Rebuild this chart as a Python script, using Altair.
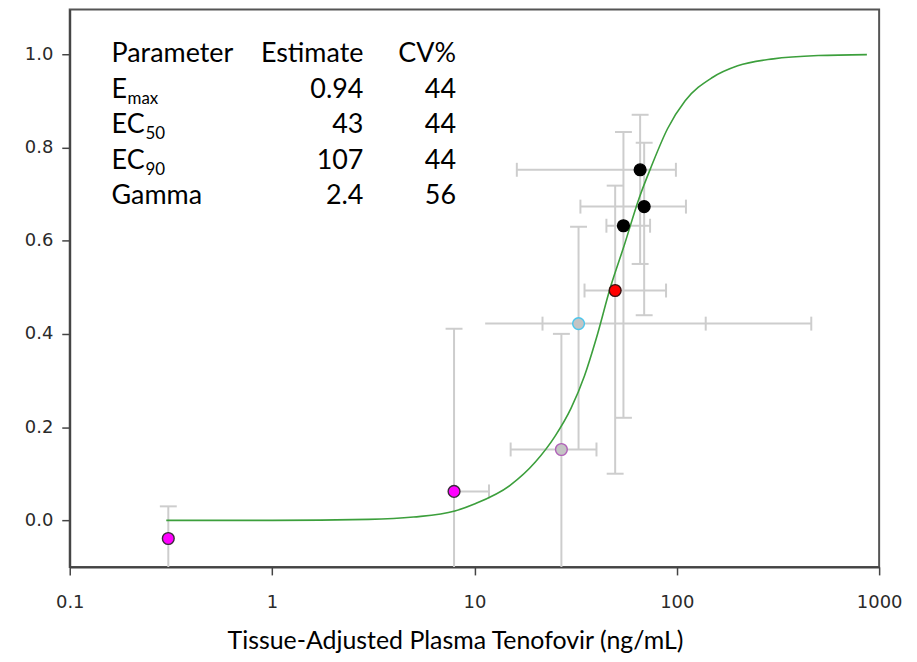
import altair as alt
import pandas as pd

# ---------------- data ----------------
conc = [0.307, 7.93, 26.9, 32.7, 49.6, 54.5, 65.9, 69.0]
effect = [-0.039, 0.062, 0.152, 0.422, 0.493, 0.632, 0.752, 0.673]
marker = ["magenta", "magenta", "lilac", "cyan", "red", "black", "black", "black"]

# vertical error bars (lows below -0.1 run off the bottom of the axis)
v_lo = [-0.2, -0.2, -0.2, 0.152, 0.10, 0.22, 0.55, 0.44]
v_hi = [0.03, 0.411, 0.40, 0.63, 0.718, 0.833, 0.87, 0.81]

# horizontal error bars (point index, conc low, conc high)
h_idx = [1, 2, 3, 4, 5, 6, 7]
h_lo = [7.93, 15.1, 11.3, 35.0, 44.9, 16.2, 33.4]
h_hi = [11.8, 40.1, 462.0, 88.5, 73.8, 99.0, 111.0]

# caps on vertical bars (horizontal cap lines)
vcap_conc = [0.307, 7.93, 26.9, 32.7, 49.6, 49.6, 54.5, 54.5, 65.9, 65.9, 69.0, 69.0]
vcap_eff = [0.03, 0.411, 0.40, 0.63, 0.718, 0.10, 0.833, 0.22, 0.87, 0.55, 0.81, 0.44]

# caps on horizontal bars (vertical cap lines)
hcap_conc = [11.8, 15.1, 40.1, 21.7, 139.0, 462.0, 35.0, 88.5, 44.9, 73.8, 16.2, 99.0, 33.4, 111.0]
hcap_eff = [0.062, 0.152, 0.152, 0.422, 0.422, 0.422, 0.493, 0.493, 0.632, 0.632, 0.752, 0.752, 0.673, 0.673]

# fitted Emax curve
curve_conc = [0.3, 1, 3, 5, 8, 10, 15, 20, 25, 30, 35, 40, 47, 55, 65, 75, 90, 110, 150, 200, 300, 500, 870]
curve_eff = [0.0, 0.0, 0.002, 0.007, 0.02, 0.035, 0.075, 0.125, 0.18, 0.24, 0.31, 0.39, 0.50, 0.59,
             0.69, 0.76, 0.84, 0.90, 0.95, 0.975, 0.99, 0.997, 0.999]

# parameter table
tbl_param = ["Parameter", "E", "EC", "EC", "Gamma"]
tbl_sub = ["", "max", "50", "90", ""]
tbl_est = ["Estimate", "0.94", "43", "107", "2.4"]
tbl_cv = ["CV%", "44", "44", "44", "56"]

x_ticks = [0.1, 1, 10, 100, 1000]
y_ticks = [0.0, 0.2, 0.4, 0.6, 0.8, 1.0]
x_title = "Tissue-Adjusted Plasma Tenofovir (ng/mL)"

# ---------------- styles ----------------
style_keys = ["magenta", "lilac", "cyan", "red", "black"]
fill_cols = ["#ff00ff", "#c4c4c4", "#c4c4c4", "#ff0000", "#000000"]
stroke_cols = ["#3a2a3a", "#b060b8", "#4cc6ec", "#3a1010", "#000000"]

X_SCALE = alt.Scale(type="log", domain=[0.1, 1000], nice=False)
Y_SCALE = alt.Scale(domain=[-0.1, 1.096], nice=False, zero=False)

x_axis = alt.Axis(values=x_ticks, format="~g", grid=False, tickSize=8, tickWidth=1.5,
                  tickColor="#444444", domainColor="#444444", domainWidth=2,
                  labelFont="DejaVu Sans", labelFontSize=18, labelColor="#2a2a2a",
                  labelPadding=19, labelFlush=False,
                  titleFont="Lato", titleFontSize=25, titleFontWeight="normal",
                  titleColor="#000000", titleX=387, titleY=82, titleBaseline="alphabetic",
                  titleAlign="center", titleAnchor="start")
y_axis = alt.Axis(values=y_ticks, format=".1f", grid=False, tickSize=8, tickWidth=1.5,
                  tickColor="#444444", domainColor="#444444", domainWidth=2,
                  labelFont="DejaVu Sans", labelFontSize=18, labelColor="#2a2a2a",
                  labelPadding=9, title=None)


def X(f):
    return alt.X(f"{f}:Q", scale=X_SCALE, axis=x_axis, title=x_title)


def Y(f):
    return alt.Y(f"{f}:Q", scale=Y_SCALE, axis=y_axis)


GRAY = "#cdcdcd"

vbars = alt.Chart(pd.DataFrame({"x": conc, "y": v_lo, "y2": v_hi})).mark_rule(
    color=GRAY, strokeWidth=2, clip=True
).encode(x=X("x"), y=Y("y"), y2=alt.Y2("y2"))

hbars = alt.Chart(pd.DataFrame({"x": h_lo, "x2": h_hi, "y": [effect[i] for i in h_idx]})).mark_rule(
    color=GRAY, strokeWidth=2, clip=True
).encode(x=X("x"), x2=alt.X2("x2"), y=Y("y"))

vcaps = alt.Chart(pd.DataFrame({"x": vcap_conc, "y": vcap_eff})).mark_tick(
    color=GRAY, orient="horizontal", size=17, thickness=2, opacity=1
).encode(x=X("x"), y=Y("y"))

hcaps = alt.Chart(pd.DataFrame({"x": hcap_conc, "y": hcap_eff})).mark_tick(
    color=GRAY, orient="vertical", size=14, thickness=2, opacity=1
).encode(x=X("x"), y=Y("y"))

curve = alt.Chart(pd.DataFrame({"x": curve_conc, "y": curve_eff})).mark_line(
    color="#3c9f3c", strokeWidth=1.6, interpolate="monotone"
).encode(x=X("x"), y=Y("y"))

points = alt.Chart(pd.DataFrame({"x": conc, "y": effect, "m": marker})).mark_circle(
    size=140, strokeWidth=1.4, opacity=1
).encode(
    x=X("x"), y=Y("y"),
    fill=alt.Fill("m:N", scale=alt.Scale(domain=style_keys, range=fill_cols), legend=None),
    stroke=alt.Stroke("m:N", scale=alt.Scale(domain=style_keys, range=stroke_cols), legend=None),
)

# table text (pixel positions relative to plot area)
FONT = "Lato"
BIG = 27
SMALL = 17
row_base = [53, 89, 124, 160, 195]
col_param_x = 42
col_est_x = 295
col_cv_x = 388
sub_x = [0, 58, 76, 76, 0]

one = pd.DataFrame({"d": [0]})
texts = []
for i in range(len(tbl_param)):
    texts.append(alt.Chart(one).mark_text(font=FONT, fontSize=BIG, align="left", baseline="alphabetic",
                                          color="#000000").encode(
        x=alt.value(col_param_x), y=alt.value(row_base[i]), text=alt.value(tbl_param[i])))
    if tbl_sub[i]:
        texts.append(alt.Chart(one).mark_text(font=FONT, fontSize=SMALL, align="left",
                                              baseline="alphabetic", color="#000000").encode(
            x=alt.value(sub_x[i]), y=alt.value(row_base[i] + 6), text=alt.value(tbl_sub[i])))
    texts.append(alt.Chart(one).mark_text(font=FONT, fontSize=BIG, align="right", baseline="alphabetic",
                                          color="#000000").encode(
        x=alt.value(col_est_x), y=alt.value(row_base[i]), text=alt.value(tbl_est[i])))
    texts.append(alt.Chart(one).mark_text(font=FONT, fontSize=BIG, align="right", baseline="alphabetic",
                                          color="#000000").encode(
        x=alt.value(col_cv_x), y=alt.value(row_base[i]), text=alt.value(tbl_cv[i])))

chart = alt.layer(vbars, hbars, vcaps, hcaps, curve, points, *texts).properties(
    width=813, height=560,
    autosize=alt.AutoSizeParams(type="none"),
    padding={"left": 62, "top": 0, "right": 30, "bottom": 86},
    background="#ffffff",
).configure_view(stroke="#555555", strokeWidth=2)

chart.save("out.html", embed_options={"renderer": "svg", "actions": False})
